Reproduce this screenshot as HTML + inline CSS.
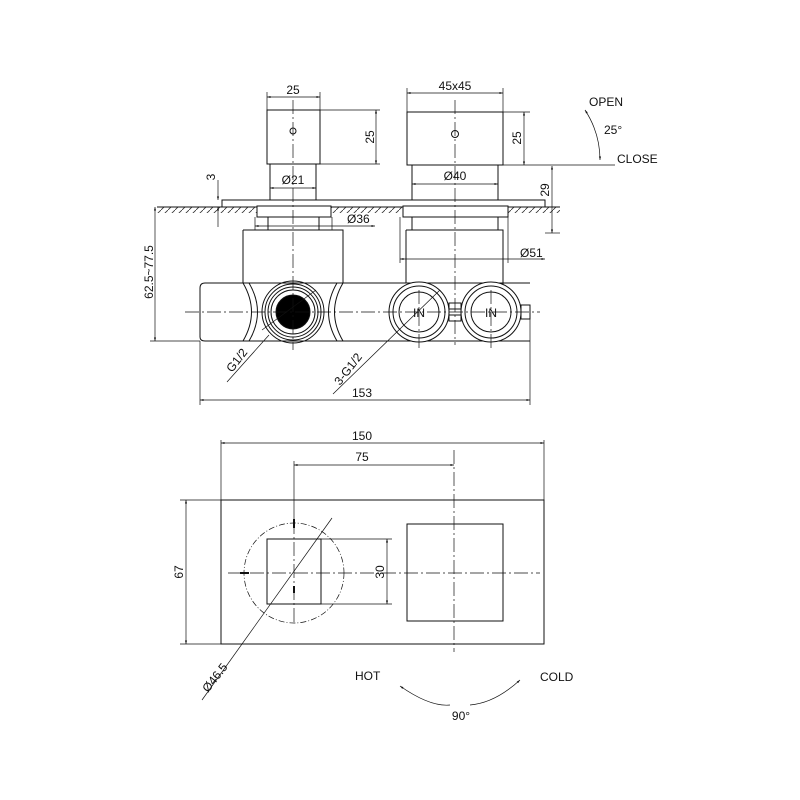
<!DOCTYPE html>
<html><head><meta charset="utf-8"><style>
html,body{margin:0;padding:0;background:#fff}
svg{display:block}
text{font-family:"Liberation Sans",sans-serif;font-size:12px;fill:#111}
</style></head><body>
<svg width="800" height="800" viewBox="0 0 800 800" xmlns="http://www.w3.org/2000/svg">
<defs>
<marker id="a" viewBox="0 0 10 10" refX="10" refY="5" markerWidth="7" markerHeight="5" orient="auto-start-reverse"><path d="M0,2 L10,5 L0,8 z" fill="#111"/></marker>
<pattern id="h" width="7" height="7" patternUnits="userSpaceOnUse"><path d="M0,7 L7,0" stroke="#333" stroke-width="0.8"/></pattern>
</defs>
<g fill="none" stroke="#111" stroke-width="1">
<rect x="157" y="207" width="403" height="6" fill="url(#h)" stroke="none"/>
<line x1="157" y1="207" x2="560" y2="207"/>
<rect x="222" y="200" width="323" height="7"/>
<rect x="267" y="110" width="53" height="54"/>
<rect x="270" y="164" width="46" height="36"/>
<circle cx="293" cy="131" r="3"/>
<rect x="407" y="112" width="96" height="53"/>
<rect x="412" y="165" width="86" height="35"/>
<circle cx="455" cy="134" r="3.5"/>
<rect x="257" y="206" width="74" height="11" fill="#fff"/>
<rect x="268" y="217" width="51" height="13"/>
<rect x="403" y="206" width="105" height="11" fill="#fff"/>
<rect x="412" y="217" width="86" height="13"/>
<path d="M243,230 H343 V283"/>
<path d="M243,230 V283"/>
<path d="M406,230 H503 V290"/>
<path d="M406,230 V283"/>
<path d="M205,283 H530 M200,288 V337 Q200,341 205,341 H530"/>
<path d="M205,283 Q200,283 200,288"/>
<path d="M243,283 Q260,312 243,341 M249,283 Q266,312 249,341"/>
<path d="M343,283 Q326,312 343,341 M337,283 Q320,312 337,341"/>
<circle cx="293" cy="312" r="31"/>
<circle cx="293" cy="312" r="28"/>
<circle cx="293" cy="312" r="25"/>
<circle cx="293" cy="312" r="22"/>
<circle cx="293" cy="312" r="17" fill="#000"/>
<circle cx="419" cy="312" r="30" fill="#fff"/>
<circle cx="419" cy="312" r="26"/>
<circle cx="419" cy="312" r="20"/>
<circle cx="491" cy="312" r="30" fill="#fff"/>
<circle cx="491" cy="312" r="26"/>
<circle cx="491" cy="312" r="20"/>
<rect x="449" y="303" width="12" height="18"/>
<line x1="449" y1="309" x2="461" y2="309"/><line x1="449" y1="315" x2="461" y2="315"/>
<rect x="521" y="305" width="9" height="14"/>
<g stroke-width="0.7" stroke-dasharray="14,3,2,3">
<line x1="185" y1="312" x2="540" y2="312"/>
<line x1="293" y1="100" x2="293" y2="350"/>
<line x1="455" y1="100" x2="455" y2="345"/>
<line x1="419" y1="290" x2="419" y2="350"/>
<line x1="491" y1="290" x2="491" y2="350"/>
</g>
<g stroke-width="0.7">
<line x1="267" y1="92" x2="267" y2="110"/><line x1="320" y1="92" x2="320" y2="110"/>
<line x1="267" y1="97" x2="320" y2="97" marker-start="url(#a)" marker-end="url(#a)"/>
<line x1="407" y1="88" x2="407" y2="112"/><line x1="503" y1="88" x2="503" y2="112"/>
<line x1="407" y1="93" x2="503" y2="93" marker-start="url(#a)" marker-end="url(#a)"/>
<line x1="320" y1="110" x2="380" y2="110"/><line x1="320" y1="164" x2="380" y2="164"/>
<line x1="376" y1="110" x2="376" y2="164" marker-start="url(#a)" marker-end="url(#a)"/>
<line x1="503" y1="112" x2="530" y2="112"/>
<line x1="524" y1="112" x2="524" y2="165" marker-start="url(#a)" marker-end="url(#a)"/>
<line x1="500" y1="165" x2="615" y2="165"/>
<line x1="270" y1="188" x2="316" y2="188" marker-start="url(#a)" marker-end="url(#a)"/>
<line x1="412" y1="184" x2="498" y2="184" marker-start="url(#a)" marker-end="url(#a)"/>
<line x1="545" y1="233" x2="560" y2="233"/>
<line x1="552" y1="166" x2="552" y2="233" marker-start="url(#a)" marker-end="url(#a)"/>
<line x1="218" y1="180" x2="218" y2="200" marker-end="url(#a)"/>
<line x1="218" y1="227" x2="218" y2="207" marker-end="url(#a)"/>
<line x1="255" y1="217" x2="255" y2="230"/><line x1="332" y1="217" x2="332" y2="230"/>
<line x1="255" y1="226" x2="375" y2="226" marker-start="url(#a)" marker-end="url(#a)"/>
<line x1="400" y1="217" x2="400" y2="263"/><line x1="508" y1="217" x2="508" y2="263"/>
<line x1="400" y1="259" x2="545" y2="259" marker-start="url(#a)" marker-end="url(#a)"/>
<line x1="150" y1="341" x2="200" y2="341"/>
<line x1="155" y1="207" x2="155" y2="341" marker-start="url(#a)" marker-end="url(#a)"/>
<line x1="200" y1="341" x2="200" y2="405"/><line x1="530" y1="319" x2="530" y2="405"/>
<line x1="200" y1="400" x2="530" y2="400" marker-start="url(#a)" marker-end="url(#a)"/>
<line x1="227" y1="382" x2="269" y2="335"/><line x1="262" y1="330" x2="316" y2="290"/>
<line x1="333" y1="394" x2="440" y2="290"/>
<path d="M585,110 Q600,133 600,160" marker-start="url(#a)" marker-end="url(#a)"/>
</g>
<rect x="221" y="500" width="323" height="144"/>
<rect x="267" y="539" width="54" height="65"/>
<rect x="407" y="524" width="96" height="97"/>
<circle cx="294" cy="573" r="50" stroke-width="0.7" stroke-dasharray="6,2,1,2"/>
<g stroke-width="0.7" stroke-dasharray="14,3,2,3">
<line x1="228" y1="573" x2="540" y2="573"/>
<line x1="294" y1="520" x2="294" y2="625"/>
<line x1="454" y1="450" x2="454" y2="652"/>
</g>
<g stroke-width="2">
<line x1="294" y1="519" x2="294" y2="528"/><line x1="294" y1="586" x2="294" y2="593"/>
<line x1="240" y1="573" x2="249" y2="573"/>
</g>
<g stroke-width="0.7">
<line x1="221" y1="440" x2="221" y2="500"/><line x1="544" y1="440" x2="544" y2="500"/>
<line x1="221" y1="443" x2="544" y2="443" marker-start="url(#a)" marker-end="url(#a)"/>
<line x1="294" y1="461" x2="294" y2="520"/>
<line x1="294" y1="465" x2="454" y2="465" marker-start="url(#a)" marker-end="url(#a)"/>
<line x1="321" y1="539" x2="392" y2="539"/><line x1="321" y1="604" x2="392" y2="604"/>
<line x1="387" y1="539" x2="387" y2="604" marker-start="url(#a)" marker-end="url(#a)"/>
<line x1="180" y1="500" x2="221" y2="500"/><line x1="180" y1="644" x2="221" y2="644"/>
<line x1="186" y1="500" x2="186" y2="644" marker-start="url(#a)" marker-end="url(#a)"/>
<line x1="202" y1="700" x2="332" y2="518"/>
<path d="M470,705 Q495,703 520,680" marker-end="url(#a)"/>
<path d="M450,705 Q430,707 400,686" marker-end="url(#a)"/>
</g>
</g>
<text x="293" y="94" text-anchor="middle">25</text>
<text x="455" y="90" text-anchor="middle">45x45</text>
<text transform="translate(374,137) rotate(-90)" text-anchor="middle">25</text>
<text transform="translate(521,138) rotate(-90)" text-anchor="middle">25</text>
<text x="293" y="184" text-anchor="middle">Ø21</text>
<text x="455" y="180" text-anchor="middle">Ø40</text>
<text x="347" y="223">Ø36</text>
<text x="520" y="257">Ø51</text>
<text transform="translate(549,190) rotate(-90)" text-anchor="middle">29</text>
<text transform="translate(215,177) rotate(-90)" text-anchor="middle">3</text>
<text transform="translate(153,272) rotate(-90)" text-anchor="middle">62.5~77.5</text>
<text x="362" y="397" text-anchor="middle">153</text>
<text transform="translate(232,373) rotate(-52)">G1/2</text>
<text transform="translate(340,386) rotate(-52)">3-G1/2</text>
<text x="419" y="317" text-anchor="middle" font-size="13">IN</text>
<text x="491" y="317" text-anchor="middle" font-size="13">IN</text>
<text x="589" y="106">OPEN</text>
<text x="604" y="134">25°</text>
<text x="617" y="163">CLOSE</text>
<text x="362" y="440" text-anchor="middle">150</text>
<text x="362" y="461" text-anchor="middle">75</text>
<text transform="translate(384,572) rotate(-90)" text-anchor="middle">30</text>
<text transform="translate(183,572) rotate(-90)" text-anchor="middle">67</text>
<text transform="translate(208,693) rotate(-52)">Ø46.5</text>
<text x="355" y="680">HOT</text>
<text x="540" y="681">COLD</text>
<text x="461" y="720" text-anchor="middle">90°</text>
</svg>
</body></html>
